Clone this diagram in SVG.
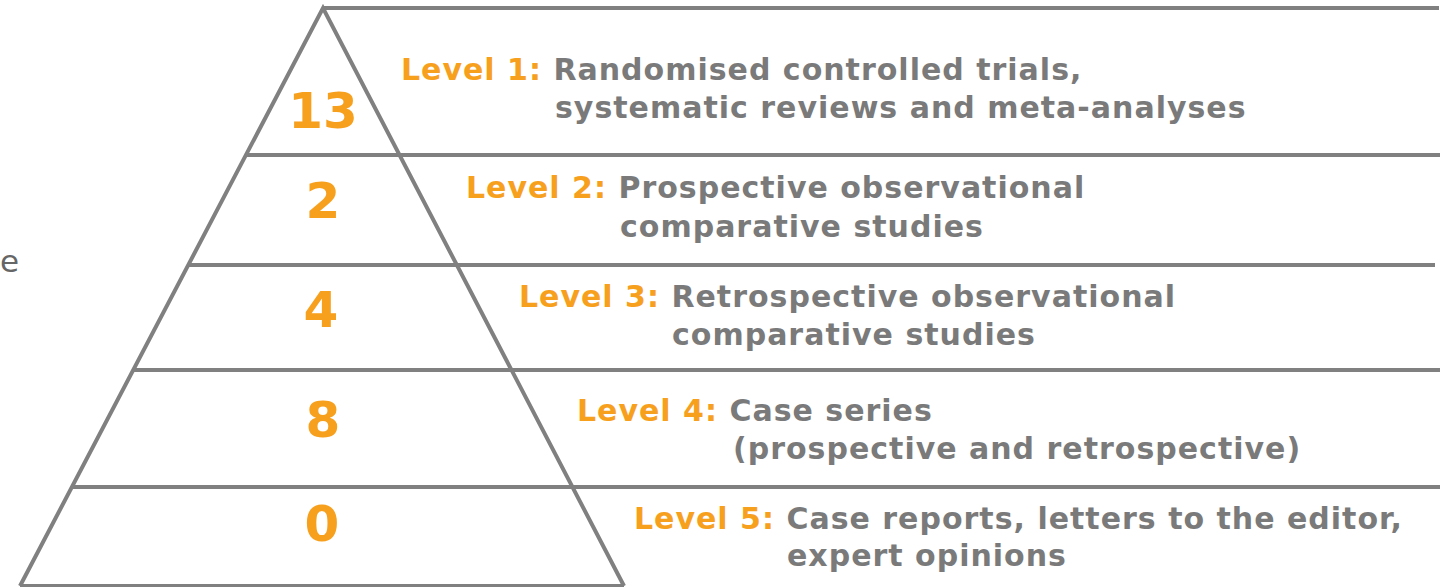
<svg xmlns="http://www.w3.org/2000/svg" width="1450" height="587" viewBox="0 0 1450 587">
<style>
.ln{stroke:#808080;stroke-width:4;fill:none}
.t{font-family:"DejaVu Sans",Verdana,sans-serif;font-weight:bold;font-size:30px;letter-spacing:1px;fill:#7a7a7a}
.o{fill:#f7a01e}
.n{font-family:"DejaVu Sans",Verdana,sans-serif;font-weight:bold;font-size:50px;fill:#f7a01e;text-anchor:middle}
</style>
<rect width="1450" height="587" fill="#fff"/>
<g id="connectors">
<polyline class="ln" points="20,586 323,8 624,586"/>
<line class="ln" x1="20" y1="586" x2="624" y2="586"/>
<line class="ln" x1="323" y1="8" x2="1439" y2="8"/>
<line class="ln" x1="246" y1="155" x2="1440" y2="155"/>
<line class="ln" x1="189" y1="265" x2="1435" y2="265"/>
<line class="ln" x1="134" y1="370" x2="1440" y2="370"/>
<line class="ln" x1="73" y1="487" x2="1440" y2="487"/>
</g>
<text x="0" y="272" font-family="DejaVu Sans,sans-serif" font-size="31" fill="#666">e</text>
<g id="level1">
<text class="n" x="323" y="128">13</text>
<text class="t" x="401" y="80"><tspan class="o">Level 1:</tspan> Randomised controlled trials,</text>
<text class="t" x="555" y="118">systematic reviews and meta-analyses</text>
</g>
<g id="level2">
<text class="n" x="323" y="218">2</text>
<text class="t" x="466" y="198"><tspan class="o">Level 2:</tspan> Prospective observational</text>
<text class="t" x="620" y="237">comparative studies</text>
</g>
<g id="level3">
<text class="n" x="321" y="327">4</text>
<text class="t" x="519" y="307"><tspan class="o">Level 3:</tspan> Retrospective observational</text>
<text class="t" x="672" y="345">comparative studies</text>
</g>
<g id="level4">
<text class="n" x="323" y="437">8</text>
<text class="t" x="577" y="421"><tspan class="o">Level 4:</tspan> Case series</text>
<text class="t" x="733" y="459">(prospective and retrospective)</text>
</g>
<g id="level5">
<text class="n" x="322" y="541">0</text>
<text class="t" x="634" y="529"><tspan class="o">Level 5:</tspan> Case reports, letters to the editor,</text>
<text class="t" x="787" y="566">expert opinions</text>
</g>
</svg>
